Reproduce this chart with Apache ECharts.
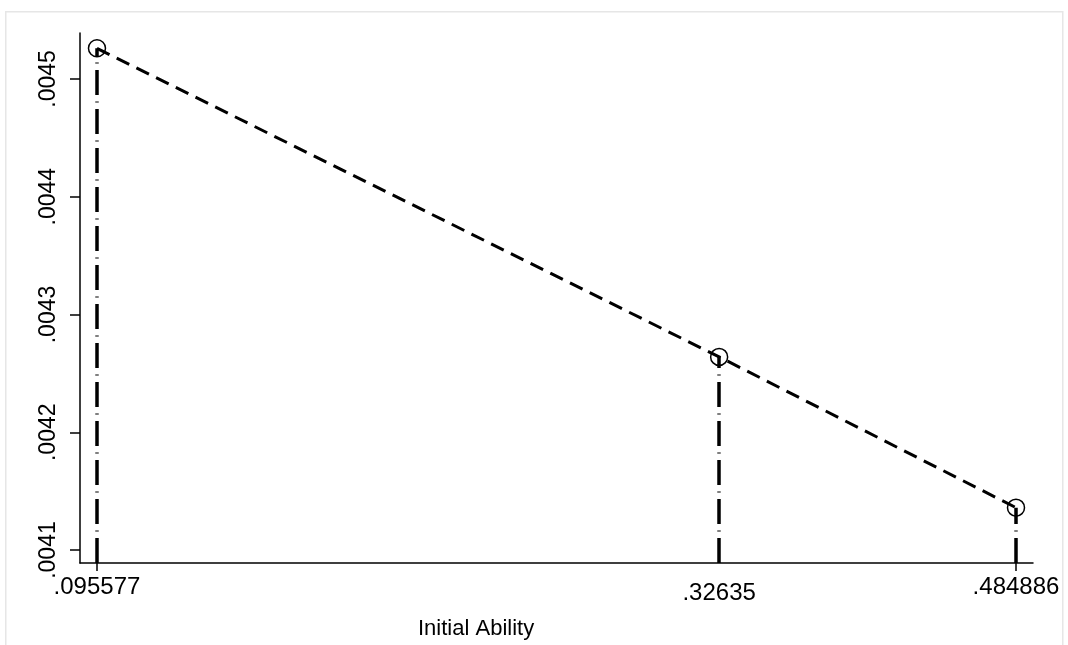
<!DOCTYPE html>
<html>
<head>
<meta charset="utf-8">
<script src="https://cdn.jsdelivr.net/npm/echarts@6/dist/echarts.min.js"></script>
<style>
  html, body { margin: 0; padding: 0; background: #fff; }
  #chart { width: 1068px; height: 645px; }
</style>
</head>
<body>
<div id="chart"></div>
<script>
  // values
  const ability = [0.095577, 0.32635, 0.484886];
  const effect = [0.004526, 0.004264, 0.004136];
  const yTicks = [0.0041, 0.0042, 0.0043, 0.0044, 0.0045];

  // the x spacing in the original is close to sqrt(ability), so place points on that scale
  const xPos = ability.map(Math.sqrt);
  const yMin = 0.004089, yMax = 0.004539;

  const font = '"Liberation Sans", Arial, sans-serif';

  function stataNum(v) {
    return String(v).replace(/^0/, '');
  }

  function xLabel(v) {
    let best = 0;
    xPos.forEach((p, i) => { if (Math.abs(p - v) < Math.abs(xPos[best] - v)) best = i; });
    const txt = stataNum(ability[best]);
    // the inner label sits a little lower in the original
    return best === 1 ? '{low|' + txt + '}' : txt;
  }

  const chart = echarts.init(document.getElementById('chart'), null, { renderer: 'canvas' });

  chart.setOption({
    animation: false,
    backgroundColor: '#fff',
    grid: { left: 80, right: 35, top: 33, bottom: 82 },
    graphic: [
      {
        type: 'rect', left: 5, top: 11, z: -10, silent: true,
        shape: { width: 1057, height: 660 },
        style: { fill: '#fff', stroke: '#e6e6e6', lineWidth: 1.5 }
      },
      {
        type: 'text', left: 418, top: 618,
        style: { text: 'Initial Ability', font: '22px ' + font, fill: '#000' }
      }
    ],
    xAxis: {
      type: 'value',
      min: 0.3020, max: 0.7035,
      axisLine: { show: true, lineStyle: { color: '#000', width: 1.5 } },
      axisTick: {
        show: true, length: 8, lineStyle: { color: '#000', width: 1.5 },
        customValues: [xPos[0], xPos[2]]
      },
      axisLabel: {
        customValues: xPos, formatter: xLabel, margin: 12,
        fontSize: 24, fontFamily: font, color: '#000',
        rich: { low: { fontSize: 24, fontFamily: font, color: '#000', padding: [6, 0, 0, 0] } }
      },
      splitLine: { show: false }
    },
    yAxis: {
      type: 'value',
      min: yMin, max: yMax,
      axisLine: { show: true, lineStyle: { color: '#000', width: 1.5 } },
      axisTick: { show: true, length: 10, lineStyle: { color: '#000', width: 1.5 }, customValues: yTicks },
      axisLabel: {
        customValues: yTicks, rotate: 90, margin: 20,
        formatter: (v) => stataNum(v.toFixed(4)),
        fontSize: 23, fontFamily: font, color: '#000'
      },
      splitLine: { show: false }
    },
    series: [
      {
        // horizontal grid lines
        type: 'line', data: [], silent: true,
        markLine: {
          silent: true, symbol: 'none', label: { show: false },
          lineStyle: { color: '#e2e2e2', width: 1.5, type: 'solid' },
          data: yTicks.map((v) => ({ yAxis: v }))
        }
      },
      {
        // drop lines from the axis up to each point
        type: 'line', data: [], silent: true, z: 3,
        markLine: {
          silent: true, symbol: 'none', label: { show: false },
          lineStyle: { color: '#000', width: 3.5, type: [25, 6.5, 1, 6.5] },
          data: xPos.map((x, i) => [{ coord: [x, yMin] }, { coord: [x, effect[i]] }])
        }
      },
      {
        type: 'line', z: 4,
        data: xPos.map((x, i) => [x, effect[i]]),
        lineStyle: { color: '#000', width: 3, type: [14, 8] },
        symbol: 'circle', symbolSize: 17,
        itemStyle: { color: 'rgba(0,0,0,0)', borderColor: '#000', borderWidth: 1.5 }
      }
    ]
  });
</script>
</body>
</html>
